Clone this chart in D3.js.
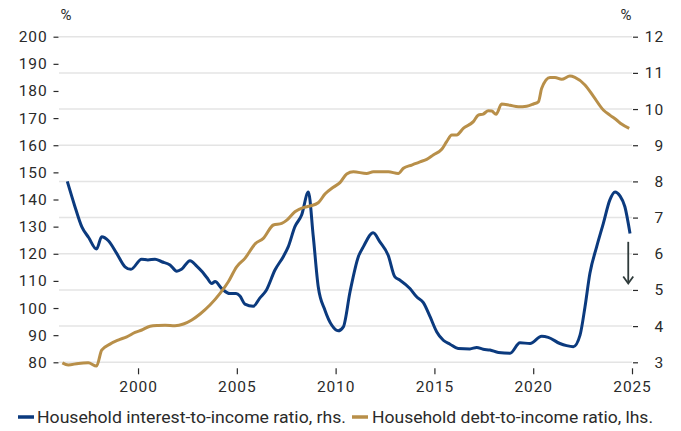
<!DOCTYPE html>
<html>
<head>
<meta charset="utf-8">
<script src="https://cdn.jsdelivr.net/npm/d3@7"></script>
<style>
  html, body { margin: 0; padding: 0; background: #fff; }
  svg { display: block; }
  text { font-family: Roboto, "Noto Sans", sans-serif; fill: #2a2a2a; }
</style>
</head>
<body>
<svg id="chart" width="681" height="431"></svg>
<script>
// ---- Data ----
const interestYears = [1996.42,1996.78,1997.15,1997.5,1997.9,1998.16,1998.5,1998.92,1999.34,1999.64,2000.18,2000.5,2000.86,2001.2,2001.62,2001.96,2002.2,2002.63,2002.97,2003.25,2003.5,2003.73,2003.9,2004.23,2004.65,2004.96,2005.16,2005.41,2005.83,2006.17,2006.5,2006.93,2007.35,2007.6,2007.94,2008.28,2008.62,2008.87,2009.12,2009.46,2009.8,2010.13,2010.39,2010.73,2011.15,2011.4,2011.9,2012.24,2012.66,2013.0,2013.26,2013.76,2014.1,2014.44,2014.78,2015.12,2015.45,2015.79,2016.2,2016.8,2017.14,2017.47,2017.81,2018.24,2018.83,2019.33,2019.84,2020.43,2020.76,2021.35,2021.69,2022.03,2022.37,2022.62,2022.87,2023.21,2023.55,2023.88,2024.14,2024.39,2024.64,2024.9];
const interestValues = [8.0,7.35,6.75,6.45,6.13,6.47,6.36,6.01,5.64,5.57,5.85,5.83,5.85,5.78,5.69,5.52,5.57,5.81,5.66,5.5,5.33,5.18,5.23,5.04,4.9,4.9,4.83,4.61,4.55,4.78,5.0,5.55,5.92,6.19,6.75,7.07,7.71,6.47,5.09,4.44,4.03,3.87,3.98,4.95,5.92,6.19,6.58,6.33,5.96,5.36,5.27,5.04,4.81,4.65,4.26,3.84,3.61,3.5,3.38,3.37,3.41,3.36,3.34,3.27,3.25,3.54,3.52,3.72,3.69,3.52,3.46,3.43,3.75,4.53,5.46,6.19,6.84,7.49,7.71,7.6,7.3,6.56];

const debtYears = [1996.17,1996.47,1996.98,1997.48,1997.9,1998.16,1998.58,1999.0,1999.43,1999.85,2000.19,2000.61,2001.03,2001.37,2001.87,2002.3,2002.72,2003.14,2003.64,2004.15,2004.57,2004.99,2005.41,2005.92,2006.34,2006.85,2007.27,2007.53,2007.94,2008.36,2008.7,2009.12,2009.46,2009.88,2010.22,2010.56,2010.9,2011.57,2011.91,2012.67,2013.17,2013.43,2013.85,2014.27,2014.61,2014.94,2015.37,2015.62,2015.88,2016.13,2016.46,2016.97,2017.22,2017.47,2017.73,2017.9,2018.12,2018.4,2018.83,2019.25,2019.67,2020.01,2020.26,2020.43,2020.85,2021.1,2021.44,2021.86,2022.11,2022.62,2023.04,2023.55,2023.88,2024.22,2024.47,2024.86];
const debtValues = [79.8,79.0,79.6,79.8,78.6,84.5,86.7,88.2,89.4,91.0,91.9,93.3,93.6,93.7,93.5,94.1,95.6,97.8,101.1,105.4,109.7,115.2,118.3,123.6,125.7,130.6,131.2,132.4,135.5,137.0,137.6,138.8,142.0,144.5,146.2,149.4,150.2,149.6,150.2,150.2,149.6,151.5,152.7,153.9,154.8,156.4,158.5,161.3,163.8,163.8,166.2,168.7,171.1,171.5,172.7,172.6,171.4,175.2,174.7,174.2,174.4,175.2,176.0,181.0,185.0,185.0,184.3,185.5,185.0,182.2,178.1,173.0,171.1,169.3,167.8,166.2];

const leftTicks = [80,90,100,110,120,130,140,150,160,170,180,190,200];
const rightTicks = [3,4,5,6,7,8,9,10,11,12];
const xTicks = [2000,2005,2010,2015,2020,2025];
const arrowYear = [2024.81, 2024.81];
const arrowValues = [6.33, 5.18];
const seriesNames = ["Household interest-to-income ratio, rhs.", "Household debt-to-income ratio, lhs."];
const unitLabel = "%";

// ---- Layout ----
const svg = d3.select("#chart");
const plot = {left: 59, right: 632, top: 36.7, bottom: 362.3};
const BLUE = "#0b3a7e", GOLD = "#b88f49", GRID = "#e4e4e4", INK = "#2a2a2a";

const x = d3.scaleLinear().domain([1996, 2025]).range([plot.left, plot.right]);
const yL = d3.scaleLinear().domain([80, 200]).range([plot.bottom, plot.top]);
const yR = d3.scaleLinear().domain([3, 12]).range([plot.bottom, plot.top]);

// gridlines (at right-axis ticks)
svg.append("g").selectAll("line").data(rightTicks).join("line")
  .attr("x1", plot.left).attr("x2", plot.right)
  .attr("y1", d => yR(d)).attr("y2", d => yR(d))
  .attr("stroke", GRID).attr("stroke-width", 1.5);

// left axis
const gL = svg.append("g").attr("transform", `translate(${plot.left - 0.5},0)`)
  .call(d3.axisLeft(yL).tickValues(leftTicks).tickSize(5).tickPadding(6));
gL.select(".domain").remove();
gL.selectAll(".tick line").attr("stroke", INK).attr("stroke-width", 1.2);
gL.selectAll(".tick text").attr("font-size", 15.5).attr("letter-spacing", 0.9)
  .attr("font-family", "Roboto, sans-serif").attr("fill", INK);

// right axis
const gR = svg.append("g").attr("transform", `translate(${plot.right + 1},0)`)
  .call(d3.axisRight(yR).tickValues(rightTicks).tickSize(5));
gR.select(".domain").remove();
gR.selectAll(".tick line").attr("stroke", INK).attr("stroke-width", 1.2);
gR.selectAll(".tick text").attr("font-size", 15.5).attr("letter-spacing", 0.9)
  .attr("font-family", "Roboto, sans-serif").attr("fill", INK)
  .attr("text-anchor", "end").attr("x", 31);

// bottom axis
const gX = svg.append("g").attr("transform", `translate(0,${plot.bottom + 6})`)
  .call(d3.axisBottom(x).tickValues(xTicks).tickFormat(d3.format("d")).tickSize(6));
gX.select(".domain").remove();
gX.selectAll(".tick line").attr("stroke", INK).attr("stroke-width", 1.2);
gX.selectAll(".tick text").attr("font-size", 15.5).attr("letter-spacing", 0.9)
  .attr("font-family", "Roboto, sans-serif").attr("fill", INK)
  .attr("y", 24).attr("dy", 0);

// unit labels
svg.append("text").attr("x", 66).attr("y", 20).attr("text-anchor", "middle")
  .attr("font-size", 15).text(unitLabel);
svg.append("text").attr("x", 626).attr("y", 20).attr("text-anchor", "middle")
  .attr("font-size", 15).text(unitLabel);

// lines
const interest = interestYears.map((d, i) => [d, interestValues[i]]);
const debt = debtYears.map((d, i) => [d, debtValues[i]]);

svg.append("path").datum(interest)
  .attr("fill", "none").attr("stroke", BLUE).attr("stroke-width", 3)
  .attr("stroke-linejoin", "round").attr("stroke-linecap", "butt")
  .attr("d", d3.line().x(d => x(d[0])).y(d => yR(d[1])).curve(d3.curveMonotoneX));

svg.append("path").datum(debt)
  .attr("fill", "none").attr("stroke", GOLD).attr("stroke-width", 3)
  .attr("stroke-linejoin", "round").attr("stroke-linecap", "butt")
  .attr("d", d3.line().x(d => x(d[0])).y(d => yL(d[1])).curve(d3.curveMonotoneX));

// arrow
const ax = x(arrowYear[0]), ay0 = yR(arrowValues[0]), ay1 = yR(arrowValues[1]);
svg.append("line").attr("x1", ax).attr("x2", ax).attr("y1", ay0).attr("y2", ay1 - 1)
  .attr("stroke", "#2f3b3b").attr("stroke-width", 1.8);
svg.append("path")
  .attr("d", `M${ax - 5},${ay1 - 7} L${ax},${ay1} L${ax + 5},${ay1 - 7}`)
  .attr("fill", "none").attr("stroke", "#2f3b3b").attr("stroke-width", 1.8)
  .attr("stroke-linejoin", "miter");

// legend
const legend = [
  {name: seriesNames[0], color: BLUE, x0: 18, tx: 37, w: 309},
  {name: seriesNames[1], color: GOLD, x0: 352, tx: 372, w: 281}
];
const lg = svg.append("g");
legend.forEach(l => {
  lg.append("line").attr("x1", l.x0).attr("x2", l.x0 + 16).attr("y1", 417).attr("y2", 417)
    .attr("stroke", l.color).attr("stroke-width", 3.5);
  lg.append("text").attr("x", l.tx).attr("y", 423).attr("font-size", 16)
    .attr("textLength", l.w).attr("lengthAdjust", "spacingAndGlyphs")
    .attr("fill", INK).text(l.name);
});
</script>
</body>
</html>
